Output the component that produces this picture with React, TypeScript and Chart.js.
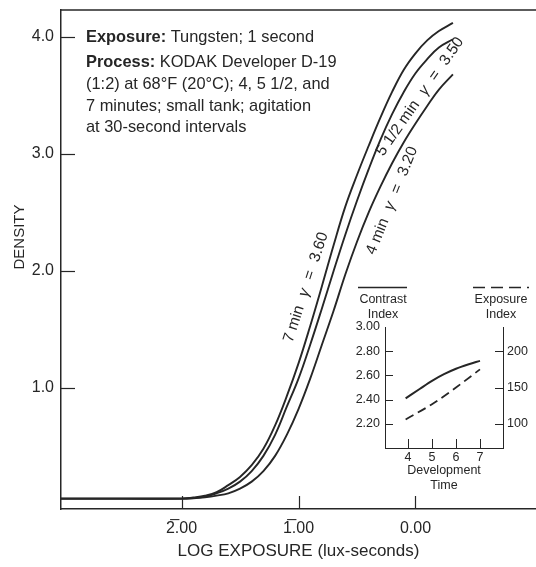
import React, { useEffect, useRef } from 'react';
import { Chart, registerables } from 'chart.js';

Chart.register(...registerables);

// ---------------- data ----------------
const logExposure = [-3.03, -2.5, -2.0, -1.9, -1.8, -1.7, -1.6, -1.5, -1.4, -1.3, -1.2, -1.1, -1.0, -0.9, -0.8, -0.7, -0.6, -0.5, -0.4, -0.3, -0.2, -0.1, 0.0, 0.1, 0.2, 0.32];
const density7min = [0.055, 0.055, 0.055, 0.065, 0.08, 0.11, 0.17, 0.24, 0.34, 0.48, 0.68, 0.93, 1.21, 1.53, 1.87, 2.22, 2.55, 2.82, 3.07, 3.31, 3.53, 3.72, 3.86, 3.97, 4.05, 4.12];
const density5halfMin = [0.055, 0.055, 0.055, 0.06, 0.072, 0.10, 0.14, 0.20, 0.29, 0.42, 0.60, 0.84, 1.08, 1.37, 1.68, 2.00, 2.31, 2.60, 2.87, 3.12, 3.34, 3.53, 3.69, 3.81, 3.91, 3.98];
const density4min = [0.055, 0.055, 0.055, 0.058, 0.066, 0.08, 0.10, 0.14, 0.20, 0.29, 0.42, 0.60, 0.82, 1.08, 1.37, 1.66, 1.97, 2.25, 2.50, 2.72, 2.92, 3.10, 3.26, 3.41, 3.55, 3.68];

const xTickValues = [-2, -1, 0];
const xTickLabels = ['2\u0305.00', '1\u0305.00', '0.00'];
const yTickValues = [1, 2, 3, 4];
const yTickLabels = ['1.0', '2.0', '3.0', '4.0'];

const devTimeContrast = [3.9, 4.5, 5, 5.5, 6, 6.5, 7];
const contrastIndex = [2.41, 2.49, 2.555, 2.61, 2.655, 2.69, 2.72];
const devTimeExposure = [3.9, 5, 6, 7];
const exposureIndex = [106, 127, 150, 175];
const insetXTicks = [4, 5, 6, 7];
const insetLeftTicks = [2.2, 2.4, 2.6, 2.8, 3.0];
const insetLeftLabels = ['2.20', '2.40', '2.60', '2.80', '3.00'];
const insetRightTicks = [100, 150, 200];

// ---------------- text ----------------
type Seg = { t: string; b?: boolean; i?: boolean };
const noteLines: Seg[][] = [
  [{ t: 'Exposure:', b: true }, { t: ' Tungsten; 1 second' }],
  [{ t: 'Process:', b: true }, { t: ' KODAK Developer D-19' }],
  [{ t: '(1:2) at 68°F (20°C); 4, 5 1/2, and' }],
  [{ t: '7 minutes; small tank; agitation' }],
  [{ t: 'at 30-second intervals' }],
];
const curveLabels: Seg[][] = [
  [{ t: '7 min' }, { t: 'γ', i: true }, { t: '=' }, { t: '3.60' }],
  [{ t: '5 1/2 min' }, { t: 'γ', i: true }, { t: '=' }, { t: '3.50' }],
  [{ t: '4 min' }, { t: 'γ', i: true }, { t: '=' }, { t: '3.20' }],
];

// ---------------- style / layout ----------------
const FONT = '"Liberation Sans", Arial, Helvetica, sans-serif';
const INK = '#262626';
const notePos = { x: 86, ys: [37, 62, 84, 106, 127], size: 16.4 };
// label anchors in data coordinates (logE, density) and angle in degrees
const curveLabelPos = [
  { at: [-0.936, 1.86], angle: -72 },
  { at: [0.04, 3.49], angle: -55 },
  { at: [-0.2, 2.6], angle: -68 },
];

function fontFor(s: Seg, size: number) {
  return `${s.i ? 'italic ' : ''}${s.b ? 'bold ' : ''}${size}px ${FONT}`;
}

function drawSpaced(ctx: CanvasRenderingContext2D, segs: Seg[], size: number, gap: number) {
  const widths = segs.map((s) => {
    ctx.font = fontFor(s, size);
    return ctx.measureText(s.t).width;
  });
  const total = widths.reduce((a, b) => a + b, 0) + gap * (segs.length - 1);
  let x = -total / 2;
  segs.forEach((s, k) => {
    ctx.font = fontFor(s, size);
    ctx.fillText(s.t, x, 0);
    x += widths[k] + gap;
  });
}

const noPad = (s: any) => {
  s.paddingTop = 0;
  s.paddingBottom = 0;
};

const mainDecor = {
  id: 'mainDecor',
  afterDraw(chart: any) {
    const { ctx, chartArea: a, scales } = chart;
    const sx = scales.x;
    const sy = scales.y;
    ctx.save();
    ctx.strokeStyle = INK;
    ctx.lineWidth = 1.5;
    ctx.beginPath();
    ctx.moveTo(a.left, a.top);
    ctx.lineTo(a.right, a.top);
    ctx.stroke();
    ctx.lineWidth = 1.2;
    xTickValues.forEach((v) => {
      const px = Math.round(sx.getPixelForValue(v)) + 0.5;
      ctx.beginPath();
      ctx.moveTo(px, a.bottom);
      ctx.lineTo(px, a.bottom - 13);
      ctx.stroke();
    });
    yTickValues.forEach((v) => {
      const py = Math.round(sy.getPixelForValue(v)) + 0.5;
      ctx.beginPath();
      ctx.moveTo(a.left, py);
      ctx.lineTo(a.left + 14, py);
      ctx.stroke();
    });
    ctx.fillStyle = INK;
    ctx.textBaseline = 'middle';
    // axis titles
    ctx.textAlign = 'center';
    ctx.font = `17px ${FONT}`;
    ctx.fillText('LOG EXPOSURE (lux-seconds)', (a.left + a.right) / 2, 551);
    ctx.save();
    ctx.translate(20, 237);
    ctx.rotate(-Math.PI / 2);
    ctx.font = `15px ${FONT}`;
    ctx.fillText('DENSITY', 0, 0);
    ctx.restore();
    // note block
    ctx.textAlign = 'left';
    noteLines.forEach((line, k) => {
      let x = notePos.x;
      line.forEach((s) => {
        ctx.font = fontFor(s, notePos.size);
        ctx.fillText(s.t, x, notePos.ys[k]);
        x += ctx.measureText(s.t).width;
      });
    });
    // curve labels
    curveLabels.forEach((segs, k) => {
      const p = curveLabelPos[k];
      ctx.save();
      ctx.translate(sx.getPixelForValue(p.at[0]), sy.getPixelForValue(p.at[1]));
      ctx.rotate((p.angle * Math.PI) / 180);
      ctx.textAlign = 'left';
      drawSpaced(ctx, segs, 15.5, 10);
      ctx.restore();
    });
    ctx.restore();
  },
};

const insetDecor = {
  id: 'insetDecor',
  afterDraw(chart: any) {
    const { ctx, chartArea: a, scales } = chart;
    ctx.save();
    ctx.strokeStyle = INK;
    ctx.lineWidth = 1;
    insetXTicks.forEach((v) => {
      const px = Math.round(scales.x.getPixelForValue(v)) + 0.5;
      ctx.beginPath();
      ctx.moveTo(px, a.bottom);
      ctx.lineTo(px, a.bottom - 9);
      ctx.stroke();
    });
    insetLeftTicks.slice(0, 4).forEach((v) => {
      const py = Math.round(scales.y.getPixelForValue(v)) + 0.5;
      ctx.beginPath();
      ctx.moveTo(a.left, py);
      ctx.lineTo(a.left + 8, py);
      ctx.stroke();
    });
    insetRightTicks.forEach((v) => {
      const py = Math.round(scales.y2.getPixelForValue(v)) + 0.5;
      ctx.beginPath();
      ctx.moveTo(a.right, py);
      ctx.lineTo(a.right - 8, py);
      ctx.stroke();
    });
    // legend headers
    ctx.lineWidth = 1.5;
    ctx.beginPath();
    ctx.moveTo(18, 7.5);
    ctx.lineTo(67, 7.5);
    ctx.stroke();
    ctx.setLineDash([12, 6]);
    ctx.beginPath();
    ctx.moveTo(133, 7.5);
    ctx.lineTo(189, 7.5);
    ctx.stroke();
    ctx.setLineDash([]);
    ctx.fillStyle = INK;
    ctx.textAlign = 'center';
    ctx.textBaseline = 'middle';
    ctx.font = `12.5px ${FONT}`;
    ctx.fillText('Contrast', 43, 20);
    ctx.fillText('Index', 43, 35);
    ctx.fillText('Exposure', 161, 20);
    ctx.fillText('Index', 161, 35);
    const cx = (a.left + a.right) / 2;
    ctx.fillText('Development', cx, 191);
    ctx.fillText('Time', cx, 206);
    ctx.restore();
  },
};

export default function App() {
  const mainRef = useRef<HTMLCanvasElement>(null);
  const insetRef = useRef<HTMLCanvasElement>(null);

  useEffect(() => {
    const lineDs = (ys: number[], label: string) => ({
      label,
      data: logExposure.map((x, k) => ({ x, y: ys[k] })),
      borderColor: INK,
      borderWidth: 1.9,
      pointRadius: 0,
      fill: false,
      tension: 0.4,
    });
    const main = new Chart(mainRef.current!, {
      type: 'line',
      data: {
        datasets: [
          lineDs(density7min, '7 min'),
          lineDs(density5halfMin, '5 1/2 min'),
          lineDs(density4min, '4 min'),
        ],
      },
      options: {
        animation: false,
        responsive: false,
        devicePixelRatio: 1,
        layout: { padding: { top: 10, right: 0, left: 0, bottom: 0 } },
        plugins: { legend: { display: false }, tooltip: { enabled: false } },
        scales: {
          x: {
            type: 'linear',
            min: -3.03,
            max: 1.03,
            afterBuildTicks: (s: any) => {
              s.ticks = xTickValues.map((value) => ({ value }));
            },
            afterFit: (s: any) => {
              s.height = 58;
              s.paddingLeft = 0;
              s.paddingRight = 0;
            },
            ticks: {
              autoSkip: false,
              maxRotation: 0,
              padding: 10,
              color: INK,
              font: { family: FONT, size: 16 },
              callback: (v: any) => xTickLabels[xTickValues.indexOf(Number(v))] ?? '',
            },
            grid: { display: false, drawTicks: false },
            border: { display: true, color: INK, width: 1.5 },
          },
          y: {
            type: 'linear',
            min: -0.034,
            max: 4.23,
            afterBuildTicks: (s: any) => {
              s.ticks = yTickValues.map((value) => ({ value }));
            },
            afterFit: (s: any) => {
              s.width = 61;
              noPad(s);
            },
            ticks: {
              autoSkip: false,
              padding: 7,
              color: INK,
              font: { family: FONT, size: 16 },
              callback: (v: any) => yTickLabels[yTickValues.indexOf(Number(v))] ?? '',
            },
            grid: { display: false, drawTicks: false },
            border: { display: true, color: INK, width: 1.5 },
          },
        },
      },
      plugins: [mainDecor],
    });

    const inset = new Chart(insetRef.current!, {
      type: 'line',
      data: {
        datasets: [
          {
            label: 'Contrast Index',
            data: devTimeContrast.map((x, k) => ({ x, y: contrastIndex[k] })),
            yAxisID: 'y',
            borderColor: INK,
            borderWidth: 2,
            pointRadius: 0,
            cubicInterpolationMode: 'monotone',
          },
          {
            label: 'Exposure Index',
            data: devTimeExposure.map((x, k) => ({ x, y: exposureIndex[k] })),
            yAxisID: 'y2',
            borderColor: INK,
            borderWidth: 1.8,
            borderDash: [9, 5],
            pointRadius: 0,
            cubicInterpolationMode: 'monotone',
          },
        ],
      },
      options: {
        animation: false,
        responsive: false,
        devicePixelRatio: 1,
        layout: { padding: { top: 47, right: 0, left: 0, bottom: 0 } },
        plugins: { legend: { display: false }, tooltip: { enabled: false } },
        scales: {
          x: {
            type: 'linear',
            min: 3.04,
            max: 7.96,
            afterBuildTicks: (s: any) => {
              s.ticks = insetXTicks.map((value) => ({ value }));
            },
            afterFit: (s: any) => {
              s.height = 57;
              s.paddingLeft = 0;
              s.paddingRight = 0;
            },
            ticks: {
              autoSkip: false,
              maxRotation: 0,
              padding: 2,
              color: INK,
              font: { family: FONT, size: 12.5 },
              callback: (v: any) => String(v),
            },
            grid: { display: false, drawTicks: false },
            border: { display: true, color: INK, width: 1 },
          },
          y: {
            type: 'linear',
            position: 'left',
            min: 2.0,
            max: 3.0,
            afterBuildTicks: (s: any) => {
              s.ticks = insetLeftTicks.map((value) => ({ value }));
            },
            afterFit: (s: any) => {
              s.width = 45;
              noPad(s);
            },
            ticks: {
              autoSkip: false,
              padding: 5,
              color: INK,
              font: { family: FONT, size: 12.5 },
              callback: (v: any) => insetLeftLabels[insetLeftTicks.findIndex((t) => Math.abs(t - Number(v)) < 1e-6)] ?? '',
            },
            grid: { display: false, drawTicks: false },
            border: { display: true, color: INK, width: 1 },
          },
          y2: {
            type: 'linear',
            position: 'right',
            min: 66.67,
            max: 233.33,
            afterBuildTicks: (s: any) => {
              s.ticks = insetRightTicks.map((value) => ({ value }));
            },
            afterFit: (s: any) => {
              s.width = 33;
              noPad(s);
            },
            ticks: {
              autoSkip: false,
              padding: 4,
              color: INK,
              font: { family: FONT, size: 12.5 },
              callback: (v: any) => String(v),
            },
            grid: { display: false, drawTicks: false },
            border: { display: true, color: INK, width: 1 },
          },
        },
      },
      plugins: [insetDecor],
    });

    return () => {
      main.destroy();
      inset.destroy();
    };
  }, []);

  return (
    <div style={{ position: 'absolute', left: 0, top: 0, width: 536, height: 567, background: '#fff' }}>
      <canvas ref={mainRef} width={536} height={567} style={{ position: 'absolute', left: 0, top: 0 }} />
      <canvas ref={insetRef} width={196} height={225} style={{ position: 'absolute', left: 340, top: 280 }} />
    </div>
  );
}
